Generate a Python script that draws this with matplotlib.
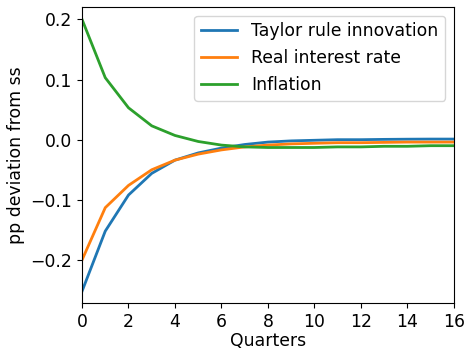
import matplotlib
matplotlib.use("Agg")
import matplotlib.pyplot as plt
import numpy as np

quarters = np.arange(0, 17)
taylor_innovation = [-0.252, -0.152, -0.092, -0.056, -0.034, -0.022, -0.014, -0.008,
                     -0.004, -0.002, -0.001, 0.0, 0.0, 0.0005, 0.0008, 0.001, 0.001]
real_rate = [-0.200, -0.113, -0.076, -0.050, -0.034, -0.024, -0.017, -0.012,
             -0.009, -0.007, -0.006, -0.005, -0.005, -0.0045, -0.004, -0.004, -0.004]
inflation = [0.200, 0.103, 0.053, 0.023, 0.007, -0.003, -0.009, -0.012,
             -0.013, -0.013, -0.013, -0.012, -0.012, -0.011, -0.011, -0.010, -0.010]

fs = 12.4
fig, ax = plt.subplots(figsize=(4.66, 3.5), dpi=100)
ax.plot(quarters, taylor_innovation, lw=2, label="Taylor rule innovation")
ax.plot(quarters, real_rate, lw=2, label="Real interest rate")
ax.plot(quarters, inflation, lw=2, label="Inflation")
ax.set_xlim(0, 16)
ax.set_ylim(-0.2716, 0.2205)
ax.set_xticks(range(0, 17, 2))
ax.set_yticks([-0.2, -0.1, 0.0, 0.1, 0.2])
ax.tick_params(labelsize=fs)
ax.set_xlabel("Quarters", fontsize=fs, labelpad=0.5)
ax.set_ylabel("pp deviation from ss", fontsize=fs)
ax.legend(loc="upper right", fontsize=fs, handlelength=2.1)
fig.subplots_adjust(left=0.176, right=0.974, bottom=0.134, top=0.98)
fig.savefig("out.png", dpi=100)
